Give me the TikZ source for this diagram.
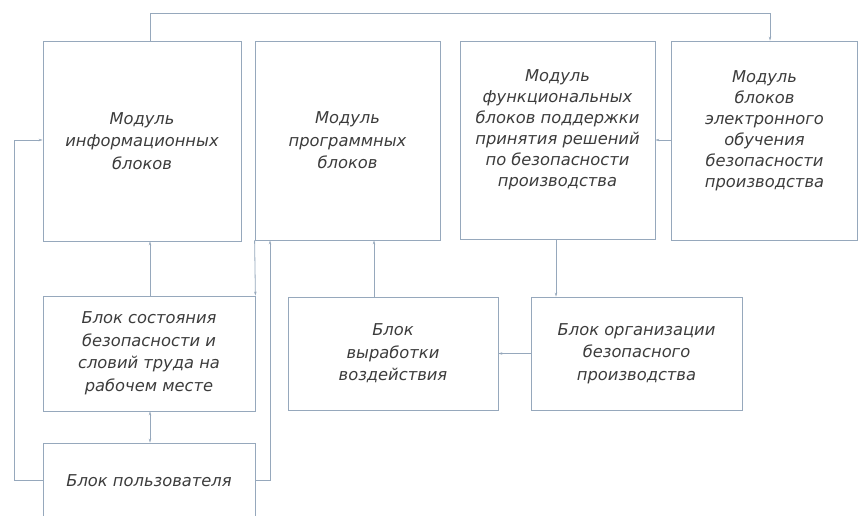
\documentclass[tikz,border=0pt]{standalone}
\usepackage{fontspec}
\newfontfamily\gost{DejaVu Sans}
\usetikzlibrary{arrows.meta}
\definecolor{lineC}{RGB}{150,168,188}
\definecolor{textC}{RGB}{60,60,60}
\begin{document}
\begin{tikzpicture}[x=1pt,y=-1pt,
  box/.style={draw=lineC, line width=0.8pt, rectangle, inner sep=0pt,
    font=\gost\itshape\fontsize{16.3}{22.5}\selectfont, text=textC, align=center},
  txt/.style={font=\gost\itshape\fontsize{16.3}{21}\selectfont, text=textC, align=center},
  arr/.style={draw=lineC, line width=0.8pt, -{Stealth[length=4pt,width=2.5pt]}},
  arrb/.style={draw=lineC, line width=0.8pt, {Stealth[length=4pt,width=2.5pt]}-{Stealth[length=4pt,width=2.5pt]}}]
\useasboundingbox (0,0) rectangle (859,516);
\fill[white] (0,0) rectangle (859,516);

\node[box, minimum width=198pt, minimum height=200pt] (A) at (142,141) {Модуль\\информационных\\блоков};
\node[box, minimum width=185pt, minimum height=199pt] (B) at (347.5,140.5) {Модуль\\программных\\блоков};
\node[box, minimum width=195pt, minimum height=198pt,
  label={[txt,yshift=10pt]center:Модуль\\функциональных\\блоков поддержки\\принятия решений\\по безопасности\\производства}] (C) at (557.5,140) {};
\node[box, minimum width=186pt, minimum height=199pt,
  label={[txt,yshift=10pt]center:Модуль\\блоков\\электронного\\обучения\\безопасности\\производства}] (D) at (764.5,140.5) {};
\node[box, minimum width=212pt, minimum height=115pt] (E) at (149,353.5) {Блок состояния\\безопасности и\\словий труда на\\рабочем месте};
\node[box, minimum width=212pt, minimum height=75pt] (F) at (149,480.5) {Блок пользователя};
\node[box, minimum width=210pt, minimum height=113pt] (G) at (393,353.5) {Блок\\выработки\\воздействия};
\node[box, minimum width=211pt, minimum height=113pt] (H) at (636.5,353.5) {Блок организации\\безопасного\\производства};

\coordinate (tA) at (150,13);
\coordinate (tD) at (770,13);
\coordinate (lt) at (14,140);
\coordinate (lb) at (14,480.5);
\coordinate (rb) at (270,480.5);
\coordinate (gx) at (374,0);
\coordinate (hx) at (556,0);
\coordinate (cy) at (0,140);

\draw[arr] (A.north -| tA) -- (tA) -- (tD) -- (D.north -| tD);
\draw[arr] (F.west |- lb) -- (lb) -- (lt) -- (A.west |- lt);
\draw[arr] (F.east |- rb) -- (rb) -- (B.south -| rb);
\draw[arr] (B.south west) -- (E.north east);
\draw[arr] (E.north -| tA) -- (A.south -| tA);
\draw[arrb] (E.south -| tA) -- (F.north -| tA);
\draw[arr] (G.north -| gx) -- (B.south -| gx);
\draw[arr] (C.south -| hx) -- (H.north -| hx);
\draw[arr] (H.west) -- (G.east);
\draw[arr] (D.west |- cy) -- (C.east |- cy);
\end{tikzpicture}
\end{document}
